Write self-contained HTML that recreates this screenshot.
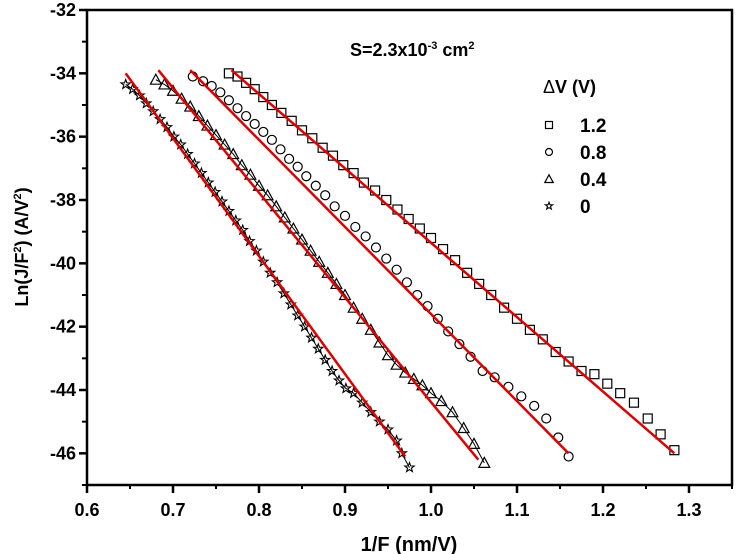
<!DOCTYPE html>
<html><head><meta charset="utf-8"><style>
body{margin:0;background:#fff}
svg{display:block;font-family:"Liberation Sans",Arial,sans-serif;font-weight:bold}
</style></head><body>
<svg id="chart" width="739" height="554" xmlns="http://www.w3.org/2000/svg">
<rect x="87" y="10" width="645" height="475" fill="none" stroke="#000" stroke-width="2.5"/>
<g id="axes"></g>
<g id="series"></g>
<text x="350" y="56" font-size="18">S=2.3x10<tspan dy="-7" font-size="11">-3</tspan><tspan dy="7"> cm</tspan><tspan dy="-7" font-size="11">2</tspan></text>
<g>
<text x="543" y="93" font-size="18"><tspan font-weight="normal">Δ</tspan>V (V)</text>
</g>
<g id="legend"></g>
<text transform="translate(28,247) rotate(-90)" text-anchor="middle" font-size="18">Ln(J/F<tspan dy="-7" font-size="11">2</tspan><tspan dy="7">) (A/V</tspan><tspan dy="-7" font-size="11">2</tspan><tspan dy="7">)</tspan></text>
<text x="409" y="551" text-anchor="middle" font-size="20">1/F (nm/V)</text>
</svg>
<script>
const xTicks=[0.6,0.7,0.8,0.9,1.0,1.1,1.2,1.3];
const xTickLabels=["0.6","0.7","0.8","0.9","1.0","1.1","1.2","1.3"];
const yTicks=[-32,-34,-36,-38,-40,-42,-44,-46];
const yTickLabels=["-32","-34","-36","-38","-40","-42","-44","-46"];
const seriesNames=["1.2","0.8","0.4","0"];
const sqX=[0.765,0.775,0.785,0.795,0.805,0.815,0.826,0.838,0.85,0.862,0.874,0.886,0.898,0.91,0.922,0.935,0.948,0.961,0.974,0.987,1.0,1.014,1.028,1.042,1.056,1.07,1.085,1.1,1.115,1.13,1.145,1.16,1.175,1.19,1.205,1.22,1.236,1.252,1.267,1.283];
const sqY=[-34.0,-34.1,-34.3,-34.5,-34.75,-35.0,-35.25,-35.5,-35.8,-36.05,-36.35,-36.6,-36.9,-37.15,-37.45,-37.7,-38.0,-38.3,-38.6,-38.9,-39.2,-39.55,-39.9,-40.3,-40.65,-41.0,-41.4,-41.75,-42.1,-42.4,-42.8,-43.1,-43.4,-43.5,-43.8,-44.1,-44.4,-44.9,-45.4,-45.9];
const ciX=[0.723,0.735,0.745,0.755,0.765,0.775,0.785,0.795,0.805,0.815,0.825,0.835,0.845,0.855,0.866,0.877,0.888,0.9,0.912,0.924,0.936,0.948,0.96,0.972,0.984,0.996,1.008,1.02,1.033,1.046,1.06,1.074,1.09,1.105,1.12,1.134,1.148,1.16];
const ciY=[-34.1,-34.25,-34.4,-34.6,-34.85,-35.1,-35.35,-35.6,-35.85,-36.1,-36.4,-36.7,-36.95,-37.25,-37.55,-37.85,-38.2,-38.5,-38.85,-39.15,-39.5,-39.85,-40.2,-40.6,-41.0,-41.35,-41.75,-42.15,-42.55,-42.95,-43.4,-43.6,-43.9,-44.2,-44.5,-44.9,-45.5,-46.1];
const trX=[0.68,0.69,0.7,0.71,0.72,0.73,0.74,0.75,0.76,0.77,0.78,0.79,0.8,0.81,0.82,0.83,0.84,0.85,0.86,0.87,0.88,0.89,0.9,0.91,0.92,0.93,0.94,0.95,0.96,0.97,0.98,0.99,1.0,1.012,1.025,1.038,1.05,1.062];
const trY=[-34.2,-34.35,-34.55,-34.8,-35.05,-35.35,-35.65,-35.95,-36.25,-36.55,-36.9,-37.2,-37.55,-37.85,-38.2,-38.55,-38.9,-39.25,-39.6,-39.95,-40.3,-40.65,-41.0,-41.4,-41.75,-42.1,-42.5,-42.9,-43.2,-43.45,-43.65,-43.85,-44.1,-44.35,-44.7,-45.2,-45.7,-46.3];
const stX=[0.645,0.653,0.661,0.669,0.677,0.685,0.693,0.701,0.709,0.717,0.725,0.733,0.741,0.749,0.757,0.765,0.773,0.781,0.789,0.797,0.805,0.813,0.821,0.829,0.837,0.845,0.853,0.861,0.869,0.877,0.885,0.893,0.901,0.91,0.92,0.93,0.94,0.95,0.96,0.966,0.975];
const stY=[-34.35,-34.5,-34.7,-34.95,-35.2,-35.45,-35.7,-36.0,-36.25,-36.55,-36.85,-37.15,-37.45,-37.75,-38.05,-38.35,-38.65,-38.95,-39.3,-39.6,-39.95,-40.3,-40.6,-40.95,-41.3,-41.65,-42.0,-42.35,-42.7,-43.05,-43.4,-43.7,-43.95,-44.1,-44.4,-44.7,-45.0,-45.25,-45.6,-46.0,-46.45];
const fitX0=[0.768,0.72,0.683,0.645];
const fitY0=[-33.9,-33.9,-33.9,-34.0];
const fitX1=[1.283,1.16,1.055,0.97];
const fitY1=[-46.0,-46.0,-46.2,-46.1];

const NS="http://www.w3.org/2000/svg";
const X=v=>87+(v-0.6)*860;
const Y=v=>10+(-32-v)*31.667;
function mk(tag,attrs,parent){const e=document.createElementNS(NS,tag);for(const k in attrs)e.setAttribute(k,attrs[k]);parent.appendChild(e);return e;}
const axes=document.getElementById('axes');
xTicks.forEach((t,i)=>{
  const l=mk('line',{x1:X(t),x2:X(t),y1:485,y2:493,stroke:'#000','stroke-width':2.5},axes);
  
  
  const m=mk('line',{x1:X(t+0.05),x2:X(t+0.05),y1:485,y2:489,stroke:'#000','stroke-width':2},axes);
  
  
  const tx=mk('text',{x:X(t),y:516,'text-anchor':'middle','font-size':18},axes);
  tx.textContent=xTickLabels[i];
  
  
});
yTicks.forEach((t,i)=>{
  const l=mk('line',{x1:79,x2:87,y1:Y(t),y2:Y(t),stroke:'#000','stroke-width':2.5},axes);
  
  
  const m=mk('line',{x1:82,x2:87,y1:Y(t-1),y2:Y(t-1),stroke:'#000','stroke-width':2},axes);
  
  
  const tx=mk('text',{x:76,y:Y(t)+6,'text-anchor':'end','font-size':18},axes);
  tx.textContent=yTickLabels[i];
  
  
});
function marker(kind,cx,cy,s,parent){
  let e;
  if(kind==='sq')e=mk('rect',{x:cx-s,y:cy-s,width:2*s,height:2*s,fill:'none',stroke:'#000','stroke-width':1.2},parent);
  else if(kind==='ci')e=mk('circle',{cx:cx,cy:cy,r:s,fill:'none',stroke:'#000','stroke-width':1.2},parent);
  else if(kind==='tr')e=mk('polygon',{points:`${cx},${cy-s*1.2} ${cx-s*1.2},${cy+s} ${cx+s*1.2},${cy+s}`,fill:'none',stroke:'#000','stroke-width':1.2},parent);
  else{let p=[];for(let k=0;k<10;k++){const r=k%2?s*0.45:s*1.1;const a=-Math.PI/2+k*Math.PI/5;p.push((cx+r*Math.cos(a)).toFixed(1)+','+(cy+r*Math.sin(a)).toFixed(1));}
    e=mk('polygon',{points:p.join(' '),fill:'none',stroke:'#000','stroke-width':1.1},parent);}
  return e;
}
const sg=document.getElementById('series');
const kinds=['sq','ci','tr','st'];
const xs=[sqX,ciX,trX,stX], ys=[sqY,ciY,trY,stY];
kinds.forEach((k,si)=>{
  const g=mk('g',{},sg);
  
  
  if(k==='tr'||k==='st'){
    const pl=mk('polyline',{points:xs[si].map((x,i)=>X(x)+','+Y(ys[si][i])).join(' '),fill:'none',stroke:'#000','stroke-width':1},g);
    
    
  }
  xs[si].forEach((x,i)=>{
    const m=marker(k,X(x),Y(ys[si][i]),4.5,g);
    
    
  });
  const fl=mk('line',{x1:X(fitX0[si]),y1:Y(fitY0[si]),x2:X(fitX1[si]),y2:Y(fitY1[si]),stroke:'#e00000','stroke-width':2.5},g);
  
  
});
const lg=document.getElementById('legend');
kinds.forEach((k,i)=>{
  const y=125+i*27;
  const m=marker(k,549,y,3.5,lg);
  
  
  const t=mk('text',{x:580,y:y+7,'font-size':19},lg);
  t.textContent=seriesNames[i];
  
  
});
</script>
</body></html>
